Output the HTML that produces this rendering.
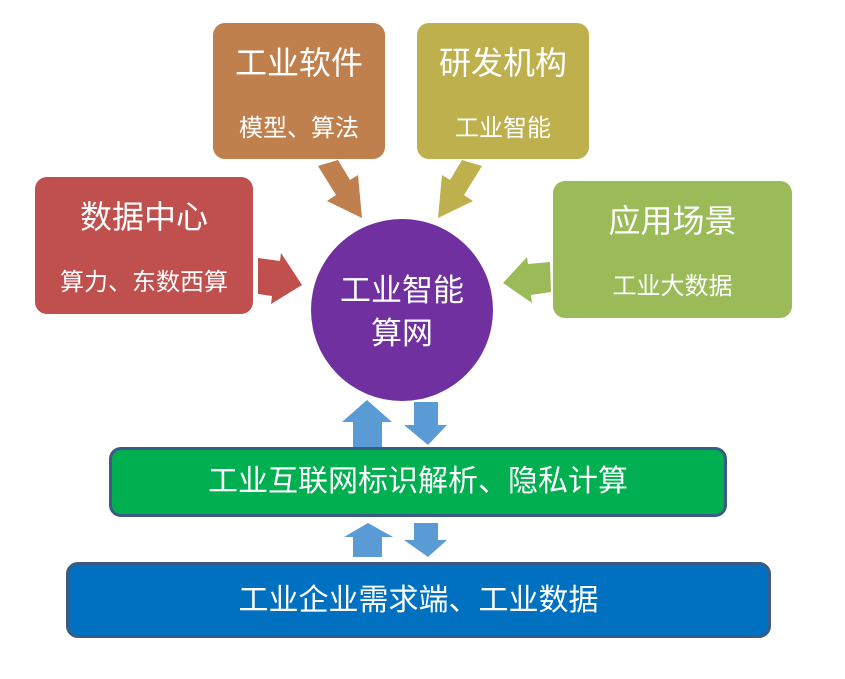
<!DOCTYPE html>
<html><head><meta charset="utf-8"><style>
body{margin:0;width:845px;height:679px;background:#fff;position:relative;overflow:hidden;font-family:"Liberation Sans","Noto Sans CJK SC",sans-serif;color:#fff}
.b{position:absolute;border-radius:12px;text-align:center}
.t{font-size:32px;margin-top:22px;line-height:36px}
.s{font-size:24px;margin-top:35px;line-height:26px}
.bar{position:absolute;border:3px solid #3b5a86;border-radius:12px;text-align:center;box-sizing:border-box}
</style></head><body>
<div class="b" style="left:35px;top:177px;width:218px;height:137px;background:#c0504d"><div class="t">数据中心</div><div class="s">算力、东数西算</div></div>
<div class="b" style="left:213px;top:23px;width:172px;height:136px;background:#c0804d"><div class="t">工业软件</div><div class="s">模型、算法</div></div>
<div class="b" style="left:417px;top:23px;width:172px;height:136px;background:#bfb04e"><div class="t">研发机构</div><div class="s">工业智能</div></div>
<div class="b" style="left:553px;top:181px;width:239px;height:137px;background:#9bbb59"><div class="t">应用场景</div><div class="s">工业大数据</div></div>
<div style="position:absolute;left:311px;top:219px;width:182px;height:182px;border-radius:50%;background:#7030a0;text-align:center;font-size:31px;line-height:43px;box-sizing:border-box;padding-top:50px">工业智能<br>算网</div>
<svg width="845" height="679" style="position:absolute;left:0;top:0">
<polygon points="258,258 280,261 281,253 302,285 271,304 272,296 258,294" fill="#c0504d"/>
<polygon points="318,166 338,160 350,180 358,175 362,218 327,201 336,195" fill="#c0804d"/>
<polygon points="482,166 462,160 450,180 442,175 438,218 473,201 464,195" fill="#bfb04e"/>
<polygon points="550,262 528,264 527,257 503,283 532,303 531,295 551,292" fill="#9bbb59"/>
<g fill="#5b9bd5">
<polygon points="353,447 353,422 342,422 367,400 392,422 382,422 382,447"/>
<polygon points="414,402 438,402 438,425 447,425 428,445 404,425 414,425"/>
<polygon points="353,557 353,537 344,537 368,523 393,537 382,537 382,557"/>
<polygon points="414,523 438,523 438,540 447,540 428,557 404,540 414,540"/>
</g>
</svg>
<div class="bar" style="left:109px;top:447px;width:618px;height:70px;background:#00b050;font-size:30px;line-height:64px">工业互联网标识解析、隐私计算</div>
<div class="bar" style="left:66px;top:562px;width:705px;height:76px;background:#0070c0;font-size:30px;line-height:72px">工业企业需求端、工业数据</div>
</body></html>
